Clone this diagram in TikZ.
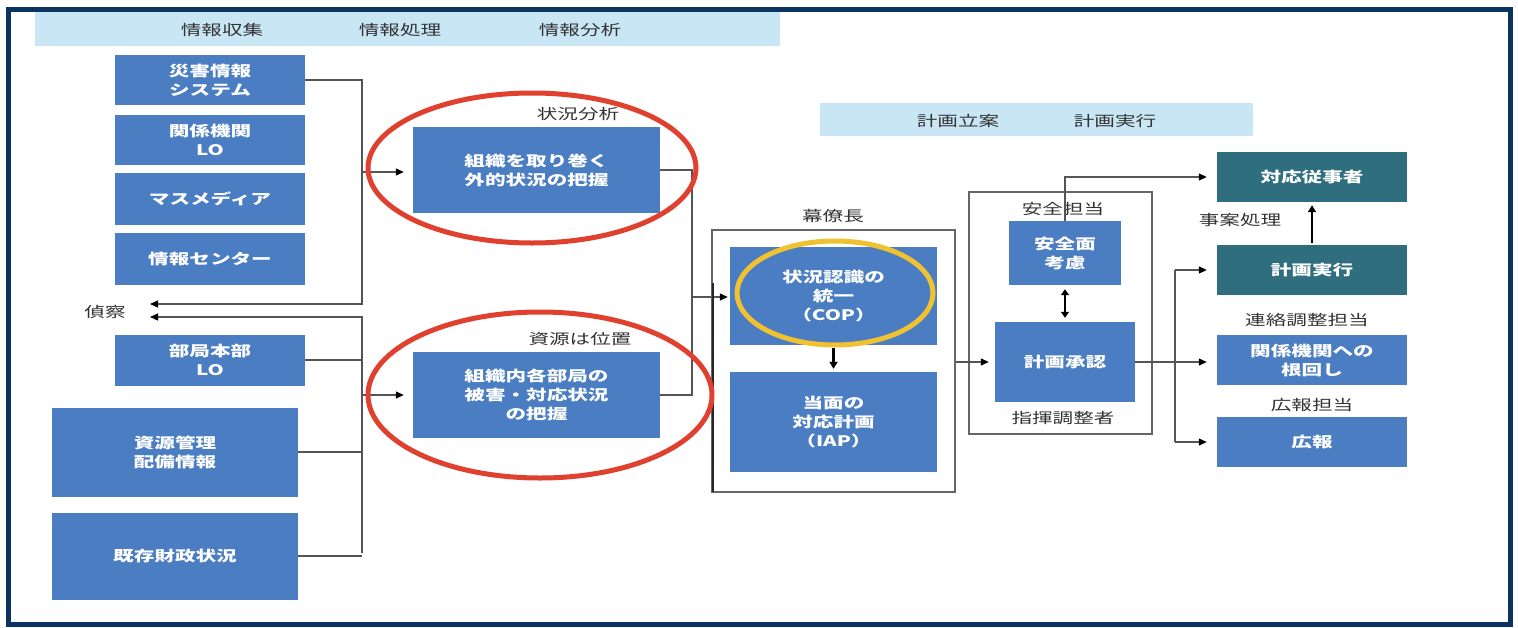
\documentclass[tikz,border=0pt]{standalone}
\usepackage{fontspec}
\newfontfamily\jp[FakeStretch=1.42]{Noto Sans CJK JP}
\usetikzlibrary{arrows.meta}
\definecolor{boxblue}{HTML}{4A7DC2}
\definecolor{boxteal}{HTML}{2F6E7F}
\definecolor{bandblue}{HTML}{C9E6F5}
\definecolor{navy}{HTML}{0B3560}
\definecolor{ringred}{HTML}{E0402E}
\definecolor{ringyel}{HTML}{F0C232}
\definecolor{linegray}{HTML}{555555}
\newcommand\jpf{\jp\fontsize{14.5}{19}\selectfont}
\newcommand\jpb{\jp\bfseries\fontsize{14.5}{19}\selectfont}
\tikzset{
  bluebox/.style={fill=boxblue, text=white, font=\jpb, align=center, inner sep=0pt},
  tealbox/.style={fill=boxteal, text=white, font=\jpb, align=center, inner sep=0pt},
  lbl/.style={text=black!80, font=\jpf, inner sep=0pt},
  conn/.style={draw=linegray, line width=1.3pt},
  arr/.style={conn, -{Triangle[length=8pt,width=7pt,fill=black,color=black]}},
  thickarr/.style={draw=black, line width=2.2pt, -{Triangle[length=7pt,width=8pt]}},
  framebox/.style={draw=black!60, line width=1.6pt, inner sep=0pt},
  redring/.style={draw=ringred, line width=5pt},
  yelring/.style={draw=ringyel, line width=5pt},
}
\begin{document}
\begin{tikzpicture}[x=1pt,y=-1pt]
\useasboundingbox (0,0) rectangle (1518,627);
% bands
\fill[bandblue] (35,12) rectangle (780,46);
\fill[bandblue] (820,103) rectangle (1253,136);
\node[lbl] (h1) at (222,30) {情報収集};
\node[lbl] (h2) at (400,30) {情報処理};
\node[lbl] (h3) at (580,30) {情報分析};
\node[lbl] (h4) at (958,121) {計画立案};
\node[lbl] (h5) at (1115,121) {計画実行};

% left column
\node[bluebox, minimum width=190, minimum height=50] (dis) at (210,80) {災害情報\\システム};
\node[bluebox, minimum width=190, minimum height=50] (lo1) at (210,140) {関係機関\\LO};
\node[bluebox, minimum width=190, minimum height=52] (mas) at (210,199) {マスメディア};
\node[bluebox, minimum width=190, minimum height=52] (cen) at (210,259) {情報センター};
\node[bluebox, minimum width=190, minimum height=51] (bu) at (210,360) {部局本部\\LO};
\node[bluebox, minimum width=246, minimum height=89] (res) at (175,452) {資源管理\\配備情報};
\node[bluebox, minimum width=246, minimum height=87] (fin) at (175,556) {既存財政状況};
\node[lbl] (tei) at (105,312) {偵察};

% middle
\node[bluebox, minimum width=247, minimum height=86] (ext) at (536.5,170) {組織を取り巻く\\外的状況の把握};
\node[bluebox, minimum width=247, minimum height=86] (int) at (536.5,395) {組織内各部局の\\被害・対応状況\\の把握};
\node[lbl] (l1) at (578,114) {状況分析};
\node[lbl] (l2) at (580,339) {資源は位置};

% staff frame
\node[framebox, minimum width=243, minimum height=262] (fr1) at (833.5,361) {};
\node[lbl] (l3) at (833,216) {幕僚長};
\node[bluebox, minimum width=207, minimum height=98] (cop) at (833.5,296) {状況認識の\\統一\\（COP）};
\node[bluebox, minimum width=207, minimum height=100] (iap) at (833.5,422) {当面の\\対応計画\\（IAP）};

% command frame
\node[framebox, minimum width=183, minimum height=242] (fr2) at (1060.5,313) {};
\node[lbl] (l4) at (1063,209) {安全担当};
\node[bluebox, minimum width=112, minimum height=64] (safe) at (1065,253) {安全面\\考慮};
\node[bluebox, minimum width=140, minimum height=80] (app) at (1065,362) {計画承認};
\node[lbl] (l5) at (1063,418) {指揮調整者};

% right column
\node[tealbox, minimum width=190, minimum height=50] (resp) at (1312,177) {対応従事者};
\node[tealbox, minimum width=190, minimum height=50] (exe) at (1312,270) {計画実行};
\node[bluebox, minimum width=190, minimum height=50] (nem) at (1312,360) {関係機関への\\根回し};
\node[bluebox, minimum width=190, minimum height=50] (pr) at (1312,442) {広報};
\node[lbl] (l6) at (1240,220) {事案処理};
\node[lbl] (l7) at (1307,320) {連絡調整担当};
\node[lbl] (l8) at (1312,405) {広報担当};

% coordinates
\coordinate (a1) at (362,304);
\coordinate (t1) at (150,304);
\coordinate (b1) at (362,317);
\coordinate (t2) at (150,317);
\coordinate (b2) at (362,553);
\coordinate (j1) at (362,172);
\coordinate (m1) at (692,297);
\coordinate (k1) at (713,283);
\coordinate (k2) at (713,492);
\coordinate (v1) at (1175,270);
\coordinate (v2) at (1175,442);

% connectors left
\draw[arr] (dis.east) -| (a1) -- (t1);
\draw[arr, shorten >=9pt] (j1) -- (j1 -| ext.west);
\draw[arr] (b2) -- (b1) -- (t2);
\draw[conn] (bu.east) -- (bu.east -| b1);
\draw[conn] (res.east) -- (res.east -| b1);
\draw[conn] (fin.east) -- (fin.east -| b1);
\draw[arr, shorten >=9pt] (int.west -| b1) -- (int.west);

% middle to staff
\draw[conn] (ext.east) -| (m1);
\draw[conn] (int.east) -| (m1);
\draw[arr, shorten >=2pt] (m1) -- (m1 -| cop.west);
\draw[draw=black!85, line width=2.6pt] (k1) -- (k2);
\draw[thickarr, shorten <=3pt, shorten >=3pt] (cop.south) -- (iap.north);

% staff to command
\draw[arr, shorten >=6pt] (app.west -| fr1.east) -- (app.west);
\draw[draw=black, line width=2.2pt, {Triangle[length=6pt,width=8pt]}-{Triangle[length=6pt,width=8pt]}, shorten <=4pt, shorten >=4pt] (safe.south) -- (safe.south |- app.north);
\draw[arr, shorten >=10pt] (safe.north) |- (resp.west);

% command to right
\draw[arr, shorten >=10pt] (app.east) -- (app.east -| nem.west);
\draw[conn] (v1) -- (v2);
\draw[arr, shorten >=10pt] (v1) -- (exe.west);
\draw[arr, shorten >=10pt] (v2) -- (pr.west);
\draw[thickarr, shorten <=2pt, shorten >=3pt] (exe.north) -- (resp.south);

% rings
\draw[redring] (532,168) ellipse [x radius=164pt, y radius=75pt];
\draw[redring] (540,395) ellipse [x radius=172pt, y radius=83pt];
\draw[yelring] (835,293) ellipse [x radius=98pt, y radius=52pt];

% outer border
\draw[navy, line width=5pt] (8.5,9.5) rectangle (1510,624);
\end{tikzpicture}
\end{document}
